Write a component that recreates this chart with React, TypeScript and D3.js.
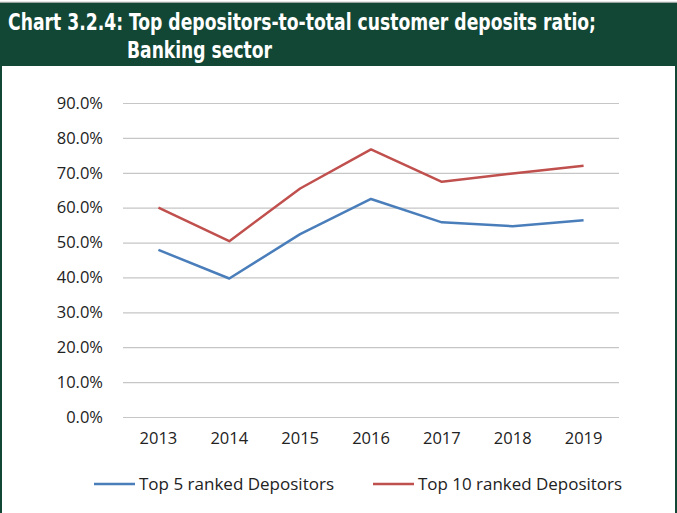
import { useEffect, useRef } from 'react';
import * as d3 from 'd3';

const years = ['2013', '2014', '2015', '2016', '2017', '2018', '2019'];
const top5 = [0.479, 0.397, 0.524, 0.625, 0.558, 0.547, 0.564];
const top10 = [0.600, 0.504, 0.655, 0.767, 0.674, 0.698, 0.720];
const yTicks = [0, 0.1, 0.2, 0.3, 0.4, 0.5, 0.6, 0.7, 0.8, 0.9];
const seriesNames = ['Top 5 ranked Depositors', 'Top 10 ranked Depositors'];
const titleLines = ['Chart 3.2.4: Top depositors-to-total customer deposits ratio;', 'Banking sector'];

const W = 677;
const H = 513;
const GREEN = '#124735';
const colors = ['#4a7ebb', '#c0504d'];
const labelFont = '"Open Sans", "Noto Sans", sans-serif';

export default function App() {
  const svgRef = useRef<SVGSVGElement>(null);

  useEffect(() => {
    const svg = d3.select(svgRef.current);
    svg.selectAll('*').remove();

    const marginLeft = 123;
    const marginRight = 58;
    const top = 103;
    const bottom = 417;

    const x = d3.scaleBand<string>().domain(years).range([marginLeft, W - marginRight]);
    const y = d3.scaleLinear().domain([0, 0.9]).range([bottom, top]);
    const cx = (d: string) => (x(d) as number) + x.bandwidth() / 2;

    // frame and header
    svg.append('rect').attr('x', 0).attr('y', 0).attr('width', W).attr('height', H).attr('fill', '#fff');
    svg.append('line').attr('x1', 0).attr('x2', W).attr('y1', 2.5).attr('y2', 2.5).attr('stroke', '#9aa39e').attr('stroke-width', 1.5);
    svg.append('rect').attr('x', 0).attr('y', 3).attr('width', W).attr('height', 63).attr('fill', GREEN);
    svg.append('rect').attr('x', 0).attr('y', 66).attr('width', 2).attr('height', H - 66).attr('fill', GREEN);
    svg.append('rect').attr('x', W - 2).attr('y', 66).attr('width', 2).attr('height', H - 66).attr('fill', GREEN);

    // title: slightly stretched vertically to mimic the condensed face
    const titleFont = '"DejaVu Sans Condensed", "Liberation Sans Narrow", sans-serif';
    const titlePos = [
      { x: 8, y: 30, len: 588 },
      { x: 127, y: 58, len: 145 },
    ];
    titleLines.forEach((t, i) => {
      svg
        .append('text')
        .attr('transform', `translate(${titlePos[i].x},${titlePos[i].y}) scale(1,1.12)`)
        .attr('fill', '#fff')
        .attr('font-family', titleFont)
        .attr('font-weight', 'bold')
        .attr('font-size', 20.5)
        .attr('textLength', titlePos[i].len)
        .attr('lengthAdjust', 'spacingAndGlyphs')
        .text(t);
    });

    // y grid and labels
    const yAxis = svg
      .append('g')
      .attr('transform', `translate(${marginLeft},0)`)
      .call(
        d3
          .axisLeft(y)
          .tickValues(yTicks)
          .tickFormat(d3.format('.1%'))
          .tickSize(-(W - marginRight - marginLeft))
          .tickPadding(20)
      );
    yAxis.select('.domain').remove();
    yAxis.selectAll('.tick line').attr('stroke', '#c6c6c6').attr('stroke-width', 1.2);
    yAxis.selectAll('.tick text').attr('fill', '#222').attr('font-size', 16.5).attr('font-family', labelFont);

    // x labels
    const xAxis = svg
      .append('g')
      .attr('transform', `translate(0,${bottom})`)
      .call(d3.axisBottom(x).tickSize(0).tickPadding(15));
    xAxis.select('.domain').remove();
    xAxis.selectAll('.tick text').attr('fill', '#222').attr('font-size', 16.5).attr('font-family', labelFont);

    // lines
    const line = d3
      .line<number>()
      .x((_, i) => cx(years[i]))
      .y((d) => y(d));
    [top5, top10].forEach((s, i) => {
      svg
        .append('path')
        .attr('d', line(s))
        .attr('fill', 'none')
        .attr('stroke', colors[i])
        .attr('stroke-width', 2.5)
        .attr('stroke-linejoin', 'round');
    });

    // legend
    const legendY = 484;
    const legendX = [94, 373];
    const legendW = [195, 204];
    seriesNames.forEach((name, i) => {
      const g = svg.append('g').attr('transform', `translate(${legendX[i]},${legendY})`);
      g.append('line').attr('x1', 0).attr('x2', 41).attr('stroke', colors[i]).attr('stroke-width', 2.5);
      g.append('text')
        .attr('x', 45)
        .attr('dy', '0.35em')
        .attr('fill', '#222')
        .attr('font-size', 17)
        .attr('font-family', labelFont)
        .attr('textLength', legendW[i])
        .attr('lengthAdjust', 'spacingAndGlyphs')
        .text(name);
    });
  }, []);

  return (
    <svg
      ref={svgRef}
      width={W}
      height={H}
      viewBox={`0 0 ${W} ${H}`}
      style={{ position: 'absolute', left: 0, top: 0 }}
    />
  );
}
